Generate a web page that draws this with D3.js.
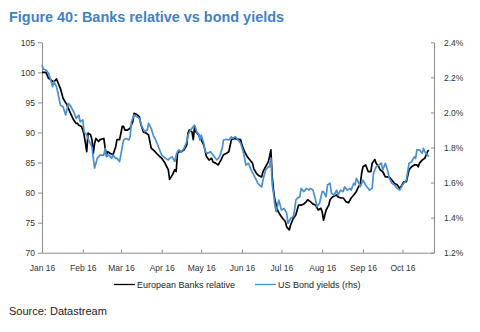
<!DOCTYPE html>
<html>
<head>
<meta charset="utf-8">
<script src="https://cdn.jsdelivr.net/npm/d3@7"></script>
<style>
  body { margin: 0; background: #fff; }
  text { font-family: "Liberation Sans", Arial, sans-serif; }
</style>
</head>
<body>
<div id="chart"></div>
<script>
// European banks relative (lhs) - [date, value]
var banks = [
  ["01-01", 100.0], ["01-04", 100.0], ["01-06", 99.0], ["01-08", 98.7], ["01-10", 98.4],
  ["01-12", 98.9], ["01-13", 98.4], ["01-15", 97.3], ["01-17", 95.7], ["01-20", 94.6],
  ["01-22", 93.5], ["01-25", 92.1], ["01-27", 91.5], ["01-28", 91.5], ["01-29", 91.2],
  ["01-31", 91.0], ["02-01", 90.4], ["02-02", 89.6], ["02-04", 86.8], ["02-05", 89.9],
  ["02-07", 89.6], ["02-08", 88.8], ["02-09", 86.5], ["02-10", 88.2], ["02-11", 89.0],
  ["02-13", 88.5], ["02-14", 88.8], ["02-17", 89.0], ["02-18", 87.4], ["02-19", 86.3],
  ["02-20", 86.8], ["02-22", 86.5], ["02-24", 86.3], ["02-26", 87.6], ["02-27", 88.8],
  ["02-29", 88.8], ["03-02", 91.0], ["03-03", 91.0], ["03-04", 90.4], ["03-06", 90.4],
  ["03-08", 90.7], ["03-10", 91.8], ["03-11", 93.2], ["03-13", 93.0], ["03-15", 92.6],
  ["03-16", 91.5], ["03-18", 90.1], ["03-20", 89.9], ["03-22", 89.6], ["03-24", 87.4],
  ["03-27", 86.8], ["03-29", 86.3], ["04-01", 85.7], ["04-03", 85.1], ["04-06", 83.8],
  ["04-07", 82.2], ["04-09", 82.9], ["04-11", 83.8], ["04-12", 83.5], ["04-13", 86.5],
  ["04-14", 86.8], ["04-16", 86.8], ["04-18", 87.1], ["04-20", 87.9], ["04-21", 89.9],
  ["04-22", 90.4], ["04-24", 90.1], ["04-25", 88.8], ["04-26", 91.0], ["04-27", 90.1],
  ["04-29", 89.6], ["05-01", 88.8], ["05-03", 87.9], ["05-05", 86.0], ["05-07", 85.4],
  ["05-09", 85.7], ["05-10", 85.1], ["05-12", 84.9], ["05-14", 84.6], ["05-16", 85.4],
  ["05-18", 86.3], ["05-20", 86.5], ["05-22", 86.8], ["05-24", 88.8], ["05-26", 89.0],
  ["05-28", 88.9], ["05-31", 88.8], ["06-01", 87.9], ["06-03", 86.8], ["06-05", 86.0],
  ["06-06", 85.7], ["06-09", 84.9], ["06-10", 84.0], ["06-12", 83.2], ["06-14", 82.8],
  ["06-16", 82.6], ["06-17", 83.5], ["06-19", 84.3], ["06-21", 85.1], ["06-22", 86.0],
  ["06-23", 87.1], ["06-24", 82.6], ["06-25", 80.4], ["06-26", 78.8], ["06-28", 77.1],
  ["06-30", 76.3], ["07-02", 75.7], ["07-04", 75.2], ["07-05", 74.3], ["07-07", 73.8],
  ["07-08", 74.6], ["07-10", 75.7], ["07-12", 76.3], ["07-14", 77.9], ["07-16", 77.9],
  ["07-18", 78.1], ["07-20", 78.5], ["07-21", 78.8], ["07-23", 78.5], ["07-25", 78.1],
  ["07-27", 77.9], ["07-29", 77.1], ["07-31", 77.4], ["08-01", 76.8], ["08-02", 75.4],
  ["08-04", 77.1], ["08-06", 77.9], ["08-07", 78.8], ["08-09", 79.3], ["08-12", 79.6],
  ["08-13", 79.3], ["08-15", 79.1], ["08-17", 79.1], ["08-19", 78.5], ["08-21", 78.3],
  ["08-23", 79.1], ["08-25", 79.6], ["08-27", 80.2], ["08-28", 80.7], ["08-30", 81.5],
  ["08-31", 83.2], ["09-01", 84.3], ["09-03", 84.6], ["09-05", 83.5], ["09-07", 83.5],
  ["09-08", 84.9], ["09-10", 85.5], ["09-11", 84.9], ["09-13", 84.3], ["09-14", 83.8],
  ["09-16", 83.5], ["09-18", 82.6], ["09-20", 82.6], ["09-21", 82.6], ["09-23", 82.1],
  ["09-25", 81.5], ["09-27", 81.3], ["09-29", 80.7], ["09-30", 81.0], ["10-02", 81.8],
  ["10-04", 81.8], ["10-06", 83.8], ["10-08", 84.3], ["10-10", 84.6], ["10-12", 84.6],
  ["10-13", 84.3], ["10-14", 84.9], ["10-16", 85.4], ["10-18", 85.7], ["10-20", 86.8],
  ["10-21", 87.1]
];

// US bond yields, % (rhs) - [date, value]
var bonds = [
  ["01-01", 2.27], ["01-02", 2.248], ["01-04", 2.242], ["01-06", 2.223], ["01-08", 2.175],
  ["01-09", 2.147], ["01-10", 2.175], ["01-12", 2.147], ["01-13", 2.115], ["01-15", 2.042],
  ["01-17", 2.033], ["01-19", 1.985], ["01-21", 2.052], ["01-23", 2.033], ["01-25", 2.004],
  ["01-27", 1.966], ["01-29", 1.985], ["01-30", 1.947], ["02-01", 1.957], ["02-02", 1.89],
  ["02-04", 1.871], ["02-06", 1.833], ["02-08", 1.804], ["02-09", 1.738], ["02-10", 1.683],
  ["02-12", 1.738], ["02-14", 1.757], ["02-15", 1.757], ["02-17", 1.757], ["02-18", 1.795],
  ["02-19", 1.747], ["02-21", 1.757], ["02-23", 1.738], ["02-24", 1.757], ["02-26", 1.738],
  ["02-27", 1.738], ["02-29", 1.719], ["03-02", 1.804], ["03-03", 1.843], ["03-05", 1.852],
  ["03-07", 1.843], ["03-08", 1.861], ["03-09", 1.947], ["03-11", 1.985], ["03-13", 1.976],
  ["03-15", 1.966], ["03-17", 1.919], ["03-19", 1.89], ["03-21", 1.90], ["03-22", 1.938],
  ["03-24", 1.909], ["03-26", 1.861], ["03-27", 1.85], ["03-29", 1.814], ["03-31", 1.776],
  ["04-01", 1.757], ["04-04", 1.738], ["04-06", 1.729], ["04-07", 1.738], ["04-09", 1.747],
  ["04-11", 1.719], ["04-12", 1.757], ["04-13", 1.776], ["04-14", 1.786], ["04-16", 1.776],
  ["04-18", 1.795], ["04-20", 1.833], ["04-21", 1.871], ["04-23", 1.90], ["04-25", 1.919],
  ["04-26", 1.928], ["04-28", 1.881], ["04-29", 1.881], ["04-30", 1.843], ["05-01", 1.871],
  ["05-03", 1.824], ["05-04", 1.776], ["05-06", 1.767], ["05-08", 1.776], ["05-10", 1.757],
  ["05-11", 1.747], ["05-13", 1.729], ["05-15", 1.747], ["05-17", 1.795], ["05-18", 1.843],
  ["05-20", 1.847], ["05-22", 1.843], ["05-24", 1.861], ["05-25", 1.852], ["05-27", 1.861],
  ["05-29", 1.843], ["05-31", 1.824], ["06-02", 1.776], ["06-04", 1.70], ["06-06", 1.71],
  ["06-08", 1.672], ["06-10", 1.643], ["06-12", 1.614], ["06-13", 1.596], ["06-16", 1.576],
  ["06-17", 1.614], ["06-19", 1.672], ["06-21", 1.69], ["06-22", 1.69], ["06-23", 1.74],
  ["06-24", 1.59], ["06-25", 1.539], ["06-26", 1.472], ["06-27", 1.434], ["06-29", 1.50],
  ["06-30", 1.472], ["07-01", 1.443], ["07-03", 1.453], ["07-05", 1.425], ["07-06", 1.367],
  ["07-08", 1.396], ["07-10", 1.405], ["07-11", 1.443], ["07-12", 1.50], ["07-13", 1.51],
  ["07-15", 1.519], ["07-16", 1.567], ["07-18", 1.548], ["07-20", 1.567], ["07-22", 1.557],
  ["07-23", 1.567], ["07-25", 1.557], ["07-27", 1.50], ["07-28", 1.462], ["07-30", 1.482],
  ["08-01", 1.548], ["08-02", 1.548], ["08-04", 1.519], ["08-05", 1.586], ["08-07", 1.596],
  ["08-08", 1.539], ["08-10", 1.529], ["08-12", 1.557], ["08-13", 1.529], ["08-15", 1.557],
  ["08-17", 1.548], ["08-18", 1.576], ["08-20", 1.557], ["08-22", 1.567], ["08-23", 1.557],
  ["08-25", 1.596], ["08-26", 1.586], ["08-27", 1.624], ["08-29", 1.596], ["08-30", 1.576],
  ["09-01", 1.614], ["09-03", 1.586], ["09-04", 1.576], ["09-06", 1.557], ["09-08", 1.567],
  ["09-09", 1.653], ["09-11", 1.69], ["09-13", 1.70], ["09-15", 1.71], ["09-16", 1.672],
  ["09-18", 1.71], ["09-20", 1.662], ["09-21", 1.624], ["09-23", 1.596], ["09-25", 1.586],
  ["09-27", 1.567], ["09-29", 1.557], ["10-01", 1.586], ["10-02", 1.596], ["10-04", 1.614],
  ["10-06", 1.71], ["10-08", 1.719], ["10-10", 1.747], ["10-11", 1.738], ["10-12", 1.786],
  ["10-14", 1.786], ["10-16", 1.767], ["10-17", 1.795], ["10-18", 1.776], ["10-20", 1.757],
  ["10-21", 1.747]
];

// axis ticks
var leftTicks = [70, 75, 80, 85, 90, 95, 100, 105];
var rightTicks = [1.2, 1.4, 1.6, 1.8, 2.0, 2.2, 2.4];
var seriesNames = ["European Banks relative", "US Bond yields (rhs)"];
var seriesColors = ["#000000", "#4a8fd2"];

var svgWidth = 480;
var svgHeight = 332;

// plot box
var margin = { top: 42.3, right: 46, bottom: 79.3, left: 42 };
var width = svgWidth - margin.left - margin.right;
var height = svgHeight - margin.top - margin.bottom;

var parseDate = d3.timeParse("%Y-%m-%d");
var toDate = s => parseDate("2016-" + s);

var svg = d3.select("#chart")
  .append("svg")
  .attr("width", svgWidth)
  .attr("height", svgHeight);

// title
svg.append("text")
  .attr("x", 9)
  .attr("y", 22)
  .attr("fill", "#4182c6")
  .attr("font-size", 15)
  .attr("font-weight", "bold")
  .attr("textLength", 275)
  .attr("lengthAdjust", "spacingAndGlyphs")
  .text("Figure 40: Banks relative vs bond yields");

var chartGroup = svg.append("g")
  .attr("transform", `translate(${margin.left}, ${margin.top})`);

var xScale = d3.scaleTime()
  .domain([toDate("01-01"), toDate("10-25")])
  .range([0, width]);

var yLeft = d3.scaleLinear().domain([70, 105]).range([height, 0]);
var yRight = d3.scaleLinear().domain([1.2, 2.4]).range([height, 0]);

var axisColor = "#8a8a8a";
var labelColor = "#333";

// bottom axis
var bottomAxis = d3.axisBottom(xScale)
  .ticks(d3.timeMonth.every(1))
  .tickFormat(d3.timeFormat("%b %y"))
  .tickSizeInner(-3)
  .tickSizeOuter(0)
  .tickPadding(12);

var xAxis = chartGroup.append("g")
  .attr("transform", `translate(0, ${height})`)
  .call(bottomAxis);

// left axis
var leftAxis = d3.axisLeft(yLeft)
  .tickValues(leftTicks)
  .tickSizeInner(4)
  .tickSizeOuter(0)
  .tickPadding(3);

var yAxisL = chartGroup.append("g").call(leftAxis);

// right axis
var rightAxis = d3.axisRight(yRight)
  .tickValues(rightTicks)
  .tickFormat(d => d3.format(".1f")(d) + "%")
  .tickSizeInner(-3)
  .tickSizeOuter(0)
  .tickPadding(10);

var yAxisR = chartGroup.append("g")
  .attr("transform", `translate(${width}, 0)`)
  .call(rightAxis);

[xAxis, yAxisL, yAxisR].forEach(function(ax) {
  ax.select(".domain").attr("stroke", axisColor);
  ax.selectAll(".tick line").attr("stroke", axisColor);
  ax.selectAll(".tick text")
    .attr("fill", labelColor)
    .attr("font-size", 8.5)
    .attr("font-family", "Liberation Sans, Arial, sans-serif");
});

// lines
var bankLine = d3.line()
  .x(d => xScale(toDate(d[0])))
  .y(d => yLeft(d[1]));

var bondLine = d3.line()
  .x(d => xScale(toDate(d[0])))
  .y(d => yRight(d[1]));

chartGroup.append("path")
  .datum(banks)
  .attr("fill", "none")
  .attr("stroke", seriesColors[0])
  .attr("stroke-width", 1.7)
  .attr("stroke-linejoin", "round")
  .attr("d", bankLine);

chartGroup.append("path")
  .datum(bonds)
  .attr("fill", "none")
  .attr("stroke", seriesColors[1])
  .attr("stroke-width", 1.7)
  .attr("stroke-linejoin", "round")
  .attr("d", bondLine);

// legend
var legendX = [114, 255];
var legend = svg.append("g");
seriesNames.forEach(function(name, i) {
  legend.append("line")
    .attr("x1", legendX[i])
    .attr("x2", legendX[i] + 21)
    .attr("y1", 284.5)
    .attr("y2", 284.5)
    .attr("stroke", seriesColors[i])
    .attr("stroke-width", 1.3);
  legend.append("text")
    .attr("x", legendX[i] + 23)
    .attr("y", 288)
    .attr("font-size", 9)
    .attr("fill", "#222")
    .text(name);
});

// source
svg.append("text")
  .attr("x", 9)
  .attr("y", 315)
  .attr("font-size", 11)
  .attr("fill", "#222")
  .text("Source: Datastream");
</script>
</body>
</html>
